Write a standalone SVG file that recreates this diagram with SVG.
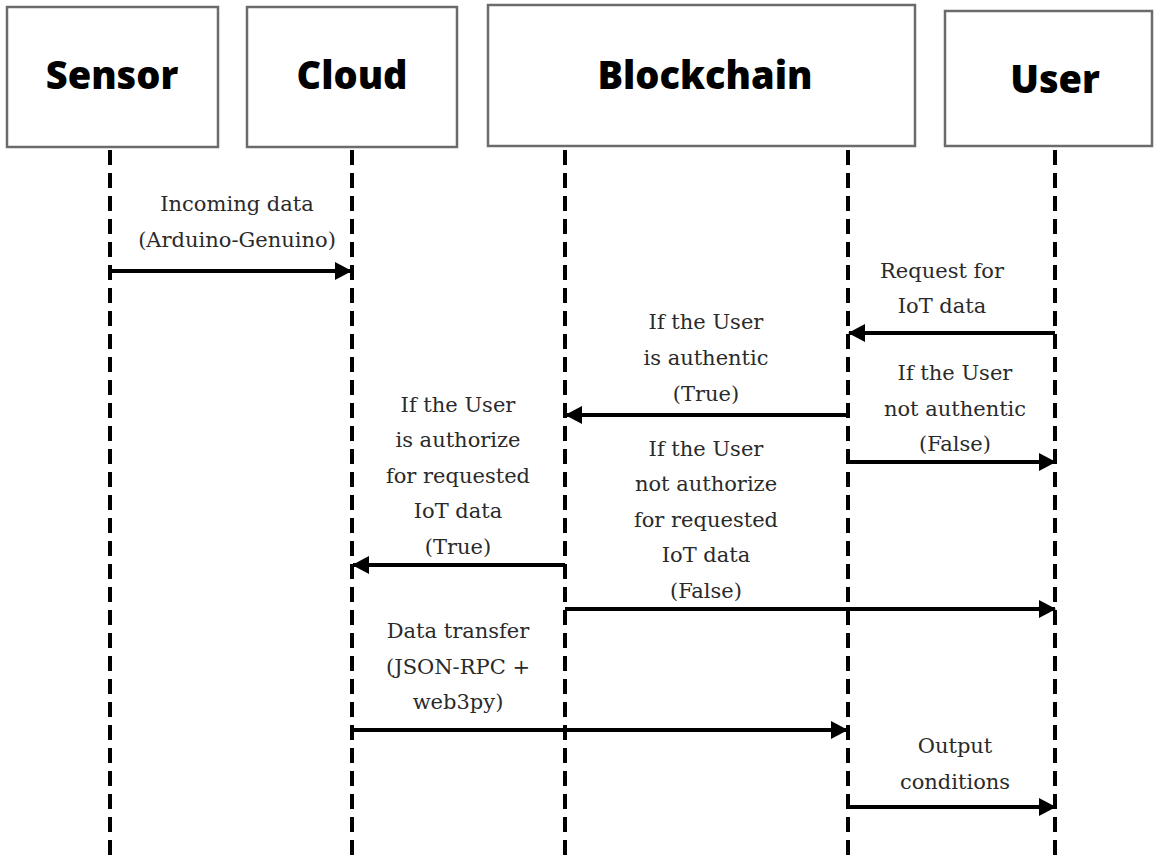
<svg xmlns="http://www.w3.org/2000/svg" width="1162" height="863" viewBox="0 0 1162 863">
<style>
.box{fill:#fff;stroke:#6b6b6b;stroke-width:2.5}
.title{font-family:"Open Sans","Liberation Sans",sans-serif;font-weight:900;font-size:38px;fill:#000;text-anchor:middle}
.life{stroke:#000;stroke-width:4;stroke-dasharray:15 8;fill:none}
.msg{stroke:#000;stroke-width:4;fill:none;marker-end:url(#ah)}
.lbl{font-family:"DejaVu Serif","Liberation Serif",serif;font-size:21px;fill:#2a2a2a;text-anchor:middle}
</style>
<defs>
<marker id="ah" markerUnits="userSpaceOnUse" markerWidth="18" markerHeight="20" refX="16" refY="10" orient="auto">
<path d="M0,1 L17,10 L0,19 z" fill="#000"/>
</marker>
</defs>
<rect width="1162" height="863" fill="#fff"/>
<g id="sensor"><rect class="box" x="7" y="7" width="211" height="140"/><text class="title" x="112" y="89">Sensor</text></g>
<g id="cloud"><rect class="box" x="247" y="7" width="210" height="140"/><text class="title" x="352" y="89">Cloud</text></g>
<g id="blockchain"><rect class="box" x="488" y="5" width="427" height="141"/><text class="title" x="705" y="89">Blockchain</text></g>
<g id="user"><rect class="box" x="945" y="11" width="207" height="135"/><text class="title" x="1055" y="93">User</text></g>
<g id="lifelines">
<line class="life" x1="110" y1="150" x2="110" y2="863"/>
<line class="life" x1="352" y1="150" x2="352" y2="863"/>
<line class="life" x1="565" y1="150" x2="565" y2="863"/>
<line class="life" x1="848" y1="150" x2="848" y2="863"/>
<line class="life" x1="1055" y1="150" x2="1055" y2="863"/>
</g>
<g id="connectors">
<line class="msg" x1="110" y1="271" x2="351" y2="271"/>
<line class="msg" x1="1055" y1="333" x2="849" y2="333"/>
<line class="msg" x1="848" y1="415" x2="566" y2="415"/>
<line class="msg" x1="848" y1="462" x2="1055" y2="462"/>
<line class="msg" x1="565" y1="565" x2="353" y2="565"/>
<line class="msg" x1="565" y1="609" x2="1055" y2="609"/>
<line class="msg" x1="352" y1="730" x2="847" y2="730"/>
<line class="msg" x1="848" y1="807" x2="1055" y2="807"/>
</g>
<g id="labels">
<text class="lbl" x="237" y="211">Incoming data</text>
<text class="lbl" x="237" y="247">(Arduino-Genuino)</text>
<text class="lbl" x="942" y="278">Request for</text>
<text class="lbl" x="942" y="313">IoT data</text>
<text class="lbl" x="706" y="329">If the User</text>
<text class="lbl" x="706" y="365">is authentic</text>
<text class="lbl" x="706" y="401">(True)</text>
<text class="lbl" x="955" y="380">If the User</text>
<text class="lbl" x="955" y="416">not authentic</text>
<text class="lbl" x="955" y="451">(False)</text>
<text class="lbl" x="458" y="412">If the User</text>
<text class="lbl" x="458" y="447">is authorize</text>
<text class="lbl" x="458" y="483">for requested</text>
<text class="lbl" x="458" y="518">IoT data</text>
<text class="lbl" x="458" y="554">(True)</text>
<text class="lbl" x="706" y="456">If the User</text>
<text class="lbl" x="706" y="491">not authorize</text>
<text class="lbl" x="706" y="527">for requested</text>
<text class="lbl" x="706" y="562">IoT data</text>
<text class="lbl" x="706" y="598">(False)</text>
<text class="lbl" x="458" y="638">Data transfer</text>
<text class="lbl" x="458" y="674">(JSON-RPC +</text>
<text class="lbl" x="458" y="709">web3py)</text>
<text class="lbl" x="955" y="753">Output</text>
<text class="lbl" x="955" y="789">conditions</text>
</g>
</svg>
